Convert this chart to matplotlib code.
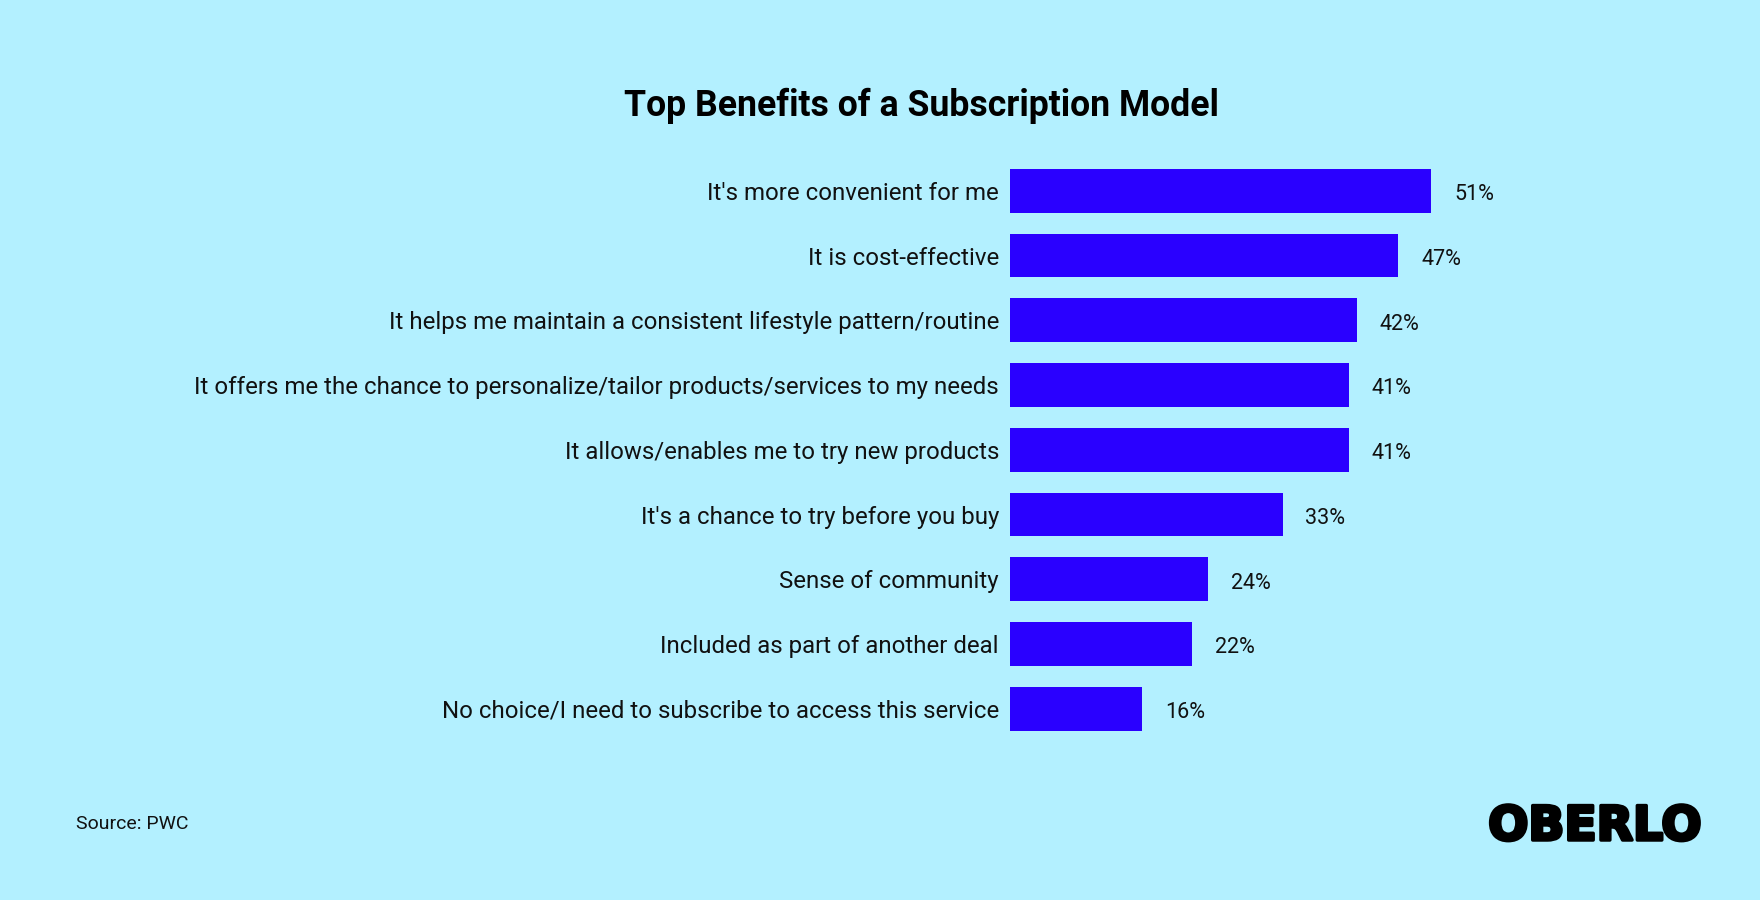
import matplotlib
matplotlib.use("Agg")
from matplotlib import pyplot as plt
import matplotlib.patheffects as pe

categories = [
    "It's more convenient for me",
    "It is cost-effective",
    "It helps me maintain a consistent lifestyle pattern/routine",
    "It offers me the chance to personalize/tailor products/services to my needs",
    "It allows/enables me to try new products",
    "It's a chance to try before you buy",
    "Sense of community",
    "Included as part of another deal",
    "No choice/I need to subscribe to access this service",
]
values = [51, 47, 42, 41, 41, 33, 24, 22, 16]
value_labels = ["51%", "47%", "42%", "41%", "41%", "33%", "24%", "22%", "16%"]

bg = "#b3f0ff"
bar_color = "#2a00ff"

plt.rcParams['font.family'] = ['Roboto', 'DejaVu Sans']

W, H = 1760, 900
fig = plt.figure(figsize=(W / 100, H / 100), dpi=100)
fig.patch.set_facecolor(bg)

# axes placed in pixel terms: bars start at x=1010, rows 65px apart
left_px, right_px = 1010, 1700
top_px, bot_px = 158.5, 741.1
ax = fig.add_axes([left_px / W, 1 - bot_px / H,
                   (right_px - left_px) / W, (bot_px - top_px) / H])
ax.set_facecolor(bg)

y = list(range(len(values)))
ax.barh(y, values, height=0.675, color=bar_color)
ax.set_ylim(len(values) - 0.5, -0.5)
ax.set_xlim(0, (right_px - left_px) / 8.26)

ax.set_yticks(y)
ax.set_yticklabels(categories, fontsize=17.25, color="#111111")
ax.tick_params(axis='y', length=0, pad=8)
ax.set_xticks([])
for s in ax.spines.values():
    s.set_visible(False)

for yi, v, lab in zip(y, values, value_labels):
    ax.annotate(lab, (v, yi), xytext=(16.5, -1), textcoords='offset points',
                ha='left', va='center_baseline', fontsize=15.5, color="#111111")

fig.text(921 / W, 1 - 115.7 / H, "Top Benefits of a Subscription Model",
         ha='center', va='baseline', fontsize=25.7, fontweight='bold', color="#000000")

fig.text(76 / W, 1 - 829 / H, "Source: PWC", ha='left', va='baseline',
         fontsize=14, color="#111111")

fig.text(1702 / W, 1 - 840 / H, "OBERLO", ha='right', va='baseline',
         fontsize=34, fontweight='bold', family='DejaVu Sans', color="#000000",
         path_effects=[pe.withStroke(linewidth=2.5, foreground="#000000")])

fig.savefig("out.png", dpi=100, facecolor=bg)
